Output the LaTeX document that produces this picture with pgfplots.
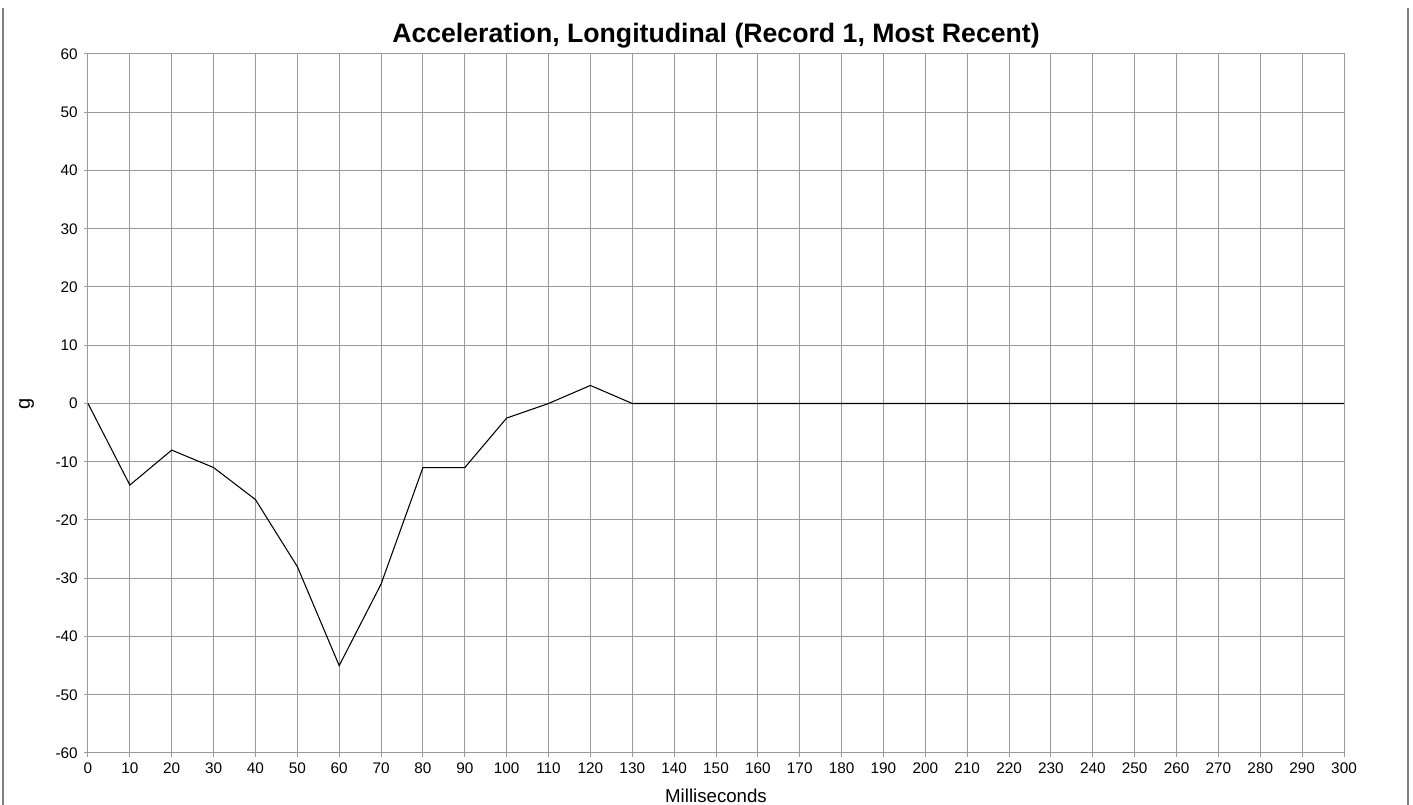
\documentclass[border=0pt]{standalone}
\usepackage{fontspec}
\setmainfont{Liberation Sans}
\usepackage{pgfplots}
\pgfplotsset{compat=1.18}
\definecolor{gridgray}{HTML}{9A9A9A}
\definecolor{framegray}{HTML}{808080}
\begin{document}
\begin{tikzpicture}
\useasboundingbox (-66pt,-39pt) rectangle (993.75pt,564.75pt);
\draw[framegray, line width=0.9pt] (-63.75pt,-39pt) -- (-63.75pt,558.75pt);
\draw[framegray, line width=0.9pt] (990pt,-39pt) -- (990pt,558.75pt);
\begin{axis}[
  at={(0,0)}, anchor=south west,
  scale only axis,
  width=942pt, height=524.25pt,
  xmin=0, xmax=300, ymin=-60, ymax=60,
  xtick={0,10,...,300},
  ytick={-60,-50,...,60},
  grid=major,
  grid style={gridgray, line width=0.75pt},
  axis line style={gridgray, line width=0.75pt},
  tick style={gridgray, line width=0.75pt},
  major tick length=3pt,
  tick align=outside,
  xtick pos=bottom, ytick pos=left,
  /pgf/number format/assume math mode=true,
  tick label style={font=\fontsize{11.5}{13}\selectfont, text=black},
  xticklabel style={inner sep=0pt, yshift=-4.5pt},
  yticklabel style={inner sep=0pt, xshift=-4.5pt},
  title={\bfseries Acceleration, Longitudinal (Record 1, Most Recent)},
  title style={at={([yshift=2.5pt]rel axis cs:0.5,1)}, anchor=base, font=\fontsize{20}{23}\selectfont, inner sep=0pt},
  xlabel={Milliseconds},
  xlabel style={at={([yshift=-37.5pt]rel axis cs:0.5,0)}, anchor=base, font=\fontsize{14}{16}\selectfont, inner sep=0pt},
  ylabel={g},
  ylabel style={at={([xshift=-46pt]rel axis cs:0,0.5)}, anchor=center, font=\fontsize{15}{17}\selectfont, inner sep=0pt},
]
\addplot[black, line width=0.8pt] coordinates {
(0,0) (10,-14) (20,-8) (30,-11) (40,-16.5) (50,-28) (60,-45) (70,-31)
(80,-11) (90,-11) (100,-2.5) (110,0) (120,3.1) (130,0) (140,0) (150,0)
(160,0) (170,0) (180,0) (190,0) (200,0) (210,0) (220,0) (230,0) (240,0)
(250,0) (260,0) (270,0) (280,0) (290,0) (300,0)
};
\end{axis}
\end{tikzpicture}
\end{document}
